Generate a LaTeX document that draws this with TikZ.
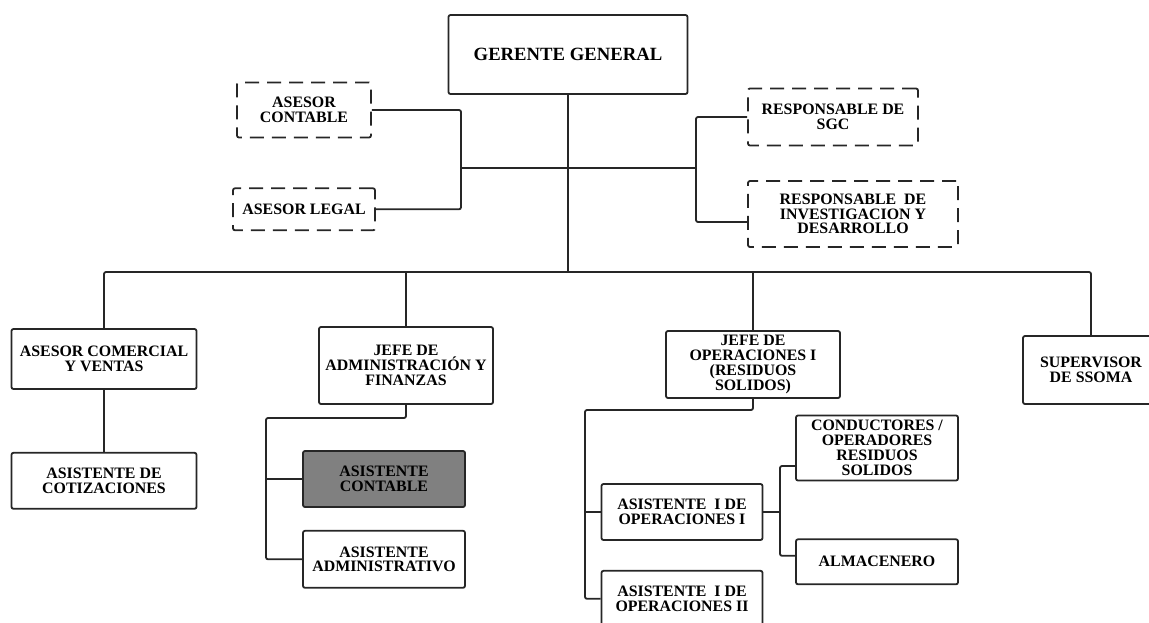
\documentclass[tikz,border=0pt]{standalone}
\usepackage{fontspec}
\setmainfont{Liberation Serif}
\usetikzlibrary{positioning}

\begin{document}
\begin{tikzpicture}[x=1pt,y=-1pt,every path/.style={line width=1.8pt}]
  \tikzstyle{cargo} = [draw=black!85,rounded corners=2pt,align=center,inner sep=1pt,
    font=\fontsize{15.9}{14.8}\selectfont\bfseries];
  \tikzstyle{asesor} = [cargo,dash pattern=on 14pt off 8pt];
  \tikzset{linea/.style={draw=black!85,rounded corners=2pt}};
  \useasboundingbox (0,0) rectangle (1149,622);
  \node[cargo,minimum width=239pt,minimum height=79pt,font=\fontsize{18.7}{18}\selectfont\bfseries] (ger) at (568,54.5) {GERENTE GENERAL};
  % staff
  \node[asesor,minimum width=134pt,minimum height=55pt] (asecont) at (304,110) {ASESOR\\CONTABLE};
  \node[asesor,minimum width=142pt,minimum height=42pt,below=49pt of asecont] (aselegal) {ASESOR LEGAL};
  \node[asesor,minimum width=170pt,minimum height=57pt] (sgc) at (833,117) {RESPONSABLE DE\\SGC};
  \node[asesor,minimum width=210pt,minimum height=66pt] (invdes) at (853,214) {RESPONSABLE\ \ DE\\INVESTIGACION Y\\DESARROLLO};
  % areas
  \node[cargo,minimum width=185pt,minimum height=60pt] (comer) at (104,359) {ASESOR COMERCIAL\\Y VENTAS};
  \node[cargo,minimum width=185pt,minimum height=56pt,below=62pt of comer] (cotiz) {ASISTENTE DE\\COTIZACIONES};
  \node[cargo,minimum width=174pt,minimum height=77pt] (jadm) at (406,365.5) {JEFE DE\\ADMINISTRACIÓN Y\\FINANZAS};
  \node[cargo,fill=black!50,minimum width=162pt,minimum height=56pt] (acont) at (384,479) {ASISTENTE\\CONTABLE};
  \node[cargo,minimum width=162pt,minimum height=57pt,below=22pt of acont] (aadm) {ASISTENTE\\ADMINISTRATIVO};
  \node[cargo,minimum width=174pt,minimum height=67pt] (jop) at (753,364.5) {JEFE DE\\OPERACIONES I\\(RESIDUOS\\SOLIDOS)};
  \node[cargo,minimum width=161pt,minimum height=56pt] (asop1) at (682,512) {ASISTENTE\ \ I DE\\OPERACIONES I};
  \node[cargo,minimum width=161pt,minimum height=56pt,below=29pt of asop1] (asop2) {ASISTENTE\ \ I DE\\OPERACIONES II};
  \node[cargo,minimum width=162pt,minimum height=65pt] (cond) at (877,448) {CONDUCTORES /\\OPERADORES\\RESIDUOS\\SOLIDOS};
  \node[cargo,minimum width=162pt,minimum height=45pt,below=57pt of cond] (almac) {ALMACENERO};
  \node[cargo,minimum width=136pt,minimum height=68pt] (superv) at (1091,370) {SUPERVISOR\\DE SSOMA};
  % lineas
  \coordinate (bus) at (568,272);
  \coordinate (izq) at (461,168);
  \coordinate (der) at (696,168);
  \coordinate (forkadm) at (266,418);
  \coordinate (forkop) at (585,410);
  \coordinate (forkasi) at (780,512);
  \draw[linea] (ger.south) -- (bus);
  \draw[linea] (comer.north) |- (bus) -| (superv.north);
  \draw[linea] (jadm.north) -- (jadm.north |- bus);
  \draw[linea] (jop.north) -- (jop.north |- bus);
  \draw[linea] (izq) -- (der);
  \draw[linea] (asecont.east) -| (izq) |- (aselegal.east);
  \draw[linea] (sgc.west) -| (der) |- ([yshift=-8pt]invdes.west);
  \draw[linea] (comer) -- (cotiz);
  \draw[linea] (jadm.south) |- (forkadm) |- (aadm.west);
  \draw[linea] (acont.west) -- (acont.west -| forkadm);
  \draw[linea] (jop.south) |- (forkop) |- (asop2.west);
  \draw[linea] (asop1.west) -- (asop1.west -| forkop);
  \draw[linea] (asop1.east) -- (forkasi);
  \draw[linea] ([yshift=-18pt]cond.west) -| (forkasi) |- ([yshift=6pt]almac.west);
\end{tikzpicture}
\end{document}
